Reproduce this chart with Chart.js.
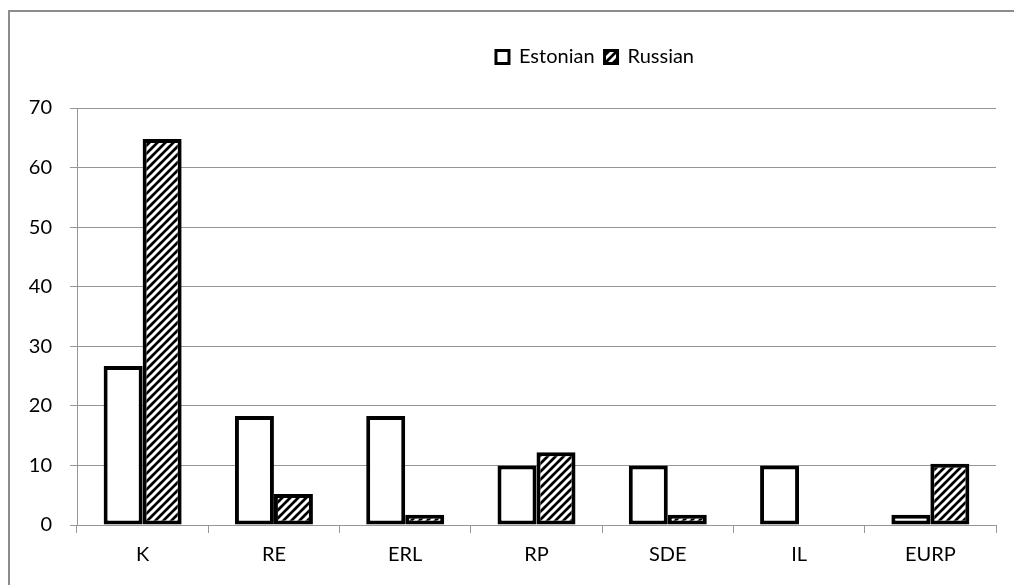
<!DOCTYPE html>
<html>
<head>
<meta charset="utf-8">
<script src="https://cdn.jsdelivr.net/npm/chart.js@4.4.1/dist/chart.umd.min.js"></script>
<style>
  html, body { margin: 0; padding: 0; background: #fff; }
  #wrap { width: 1014px; height: 585px; }
</style>
</head>
<body>
<div id="wrap"><canvas id="c" width="1014" height="585"></canvas></div>
<script>
// Party categories and share of respondents (%) by language group
const categories = ['K', 'RE', 'ERL', 'RP', 'SDE', 'IL', 'EURP'];
const estonianValues = [26.7, 18.3, 18.3, 10.0, 10.0, 10.0, 1.7];
const russianValues = [64.8, 5.2, 1.7, 12.2, 1.7, 0, 10.3];
const seriesNames = ['Estonian', 'Russian'];
const yTickValues = [0, 10, 20, 30, 40, 50, 60, 70];

const FONT = 'Lato, "Open Sans", "DejaVu Sans", sans-serif';
const GRID = '#969696';

// Diagonal hatch: black ground with light "/" stripes
function makeHatch() {
  const s = 8;
  const t = document.createElement('canvas');
  t.width = s; t.height = s;
  const g = t.getContext('2d');
  g.fillStyle = '#000';
  g.fillRect(0, 0, s, s);
  g.strokeStyle = '#fff';
  g.lineWidth = 3;
  g.beginPath();
  g.moveTo(-2, s + 2); g.lineTo(s + 2, -2);
  g.moveTo(-2, 2); g.lineTo(2, -2);
  g.moveTo(s - 2, s + 2); g.lineTo(s + 2, s - 2);
  g.stroke();
  return g.createPattern(t, 'repeat');
}
const hatch = makeHatch();

// Frame lines along the top and left edges plus a white page
const framePlugin = {
  id: 'frame',
  beforeDraw(chart) {
    const ctx = chart.ctx;
    ctx.save();
    ctx.fillStyle = '#fff';
    ctx.fillRect(0, 0, chart.width, chart.height);
    ctx.strokeStyle = '#8c8c8c';
    ctx.lineWidth = 2;
    ctx.beginPath();
    ctx.moveTo(9, chart.height);
    ctx.lineTo(9, 11);
    ctx.lineTo(chart.width, 11);
    ctx.stroke();
    ctx.restore();
  }
};

// Move the legend row to its place right of centre, above the plot
const legendShift = {
  id: 'legendShift',
  afterLayout(chart) {
    const lg = chart.legend;
    if (!lg) return;
    const dx = 97, dy = -31;
    lg.left += dx; lg.right += dx;
    lg.top += dy; lg.bottom += dy;
    if (lg.legendHitBoxes) lg.legendHitBoxes.forEach(h => { h.left += dx; h.top += dy; });
  }
};

new Chart(document.getElementById('c'), {
  type: 'bar',
  data: {
    labels: categories,
    datasets: [
      {
        label: seriesNames[0],
        data: estonianValues,
        backgroundColor: '#ffffff',
        borderColor: '#000000',
        borderWidth: 4,
        borderSkipped: false,
        categoryPercentage: 0.594,
        barPercentage: 1.0
      },
      {
        label: seriesNames[1],
        data: russianValues,
        backgroundColor: hatch,
        borderColor: '#000000',
        borderWidth: 4,
        borderSkipped: false,
        categoryPercentage: 0.594,
        barPercentage: 1.0
      }
    ]
  },
  options: {
    responsive: false,
    devicePixelRatio: 1,
    animation: false,
    layout: { padding: { left: 0, right: 18, top: 68, bottom: 0 } },
    plugins: {
      tooltip: { enabled: false },
      legend: {
        position: 'top',
        labels: {
          font: { family: FONT, size: 20 },
          color: '#000',
          boxWidth: 13,
          boxHeight: 13,
          padding: 10,
          generateLabels(chart) {
            return chart.data.datasets.map((ds, i) => ({
              text: ds.label,
              fillStyle: ds.backgroundColor,
              strokeStyle: '#000',
              lineWidth: 3,
              hidden: false,
              datasetIndex: i,
              fontColor: '#000'
            }));
          }
        }
      }
    },
    scales: {
      x: {
        grid: { drawOnChartArea: false, drawTicks: true, tickLength: 8, color: GRID, lineWidth: 1 },
        border: { display: true, color: GRID, width: 1 },
        ticks: { font: { family: FONT, size: 20 }, color: '#000', padding: 10 },
        afterFit(scale) { scale.height = 60; }
      },
      y: {
        min: 0,
        max: 70,
        afterBuildTicks(scale) { scale.ticks = yTickValues.map(v => ({ value: v })); },
        grid: { drawOnChartArea: true, drawTicks: true, tickLength: 7, color: GRID, lineWidth: 1 },
        border: { display: true, color: GRID, width: 1 },
        ticks: { font: { family: FONT, size: 20 }, color: '#000', padding: 18 },
        afterFit(scale) { scale.width = 77; }
      }
    }
  },
  plugins: [framePlugin, legendShift]
});
</script>
</body>
</html>
